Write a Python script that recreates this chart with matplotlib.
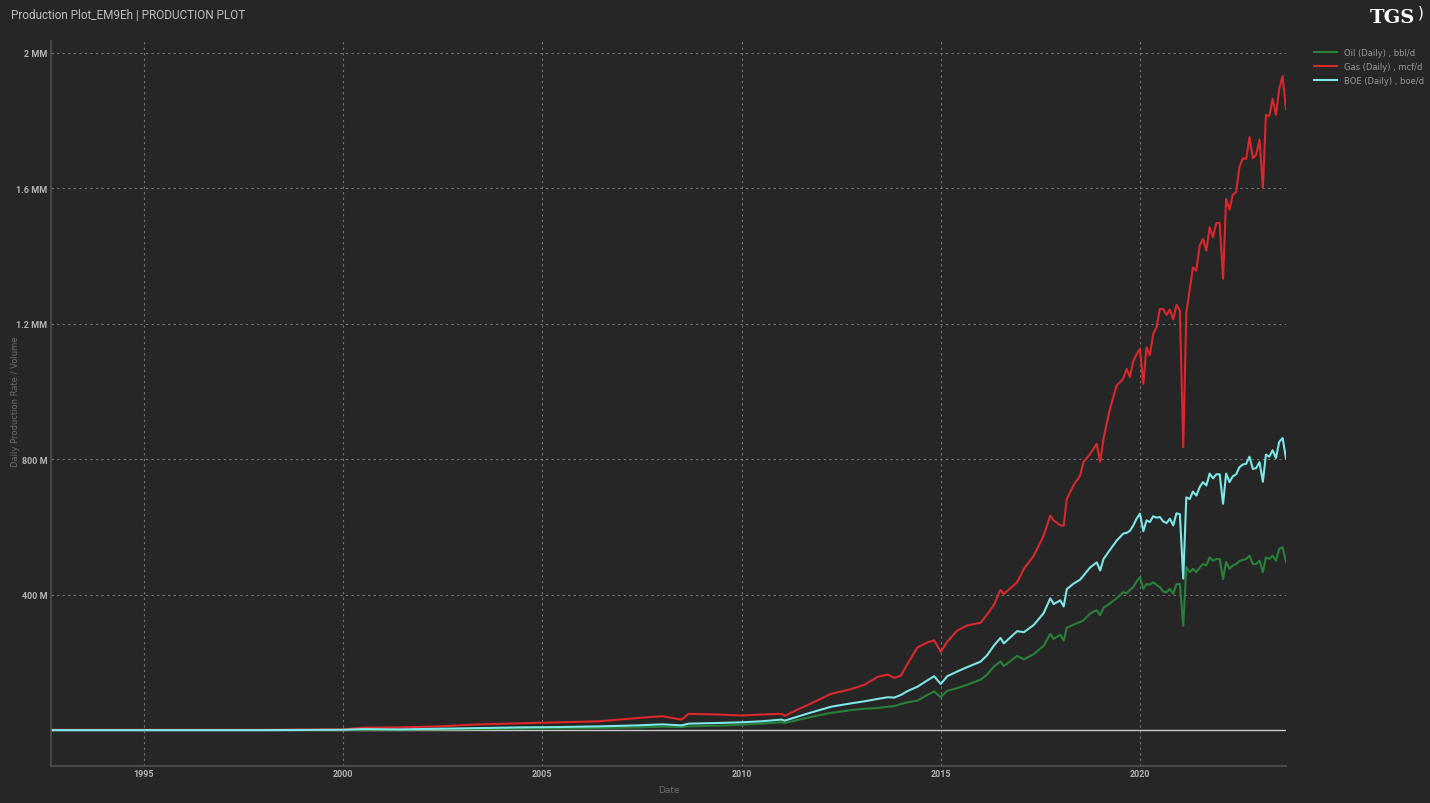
import matplotlib
matplotlib.use("Agg")
import matplotlib.pyplot as plt
import matplotlib.dates as mdates
from matplotlib.ticker import FixedLocator, FuncFormatter
import pandas as pd

# Monthly-ish production values (M = thousand)
dates = [
    "1992-09", "1995-01", "1998-01", "2000-01", "2000-07", "2001-06", "2002-06", "2003-06",
    "2004-06", "2005-06", "2006-06", "2007-06", "2008-01", "2008-07", "2008-09", "2009-06",
    "2010-01", "2010-07", "2011-01", "2011-02", "2011-06", "2011-10", "2012-04", "2012-10",
    "2013-02", "2013-06", "2013-09", "2013-11", "2014-01", "2014-03", "2014-06", "2014-09",
    "2014-11", "2015-01", "2015-03", "2015-06", "2015-09", "2016-01", "2016-03", "2016-05",
    "2016-07", "2016-08", "2016-10", "2016-12", "2017-02", "2017-05", "2017-08", "2017-10",
    "2017-11", "2018-01", "2018-02", "2018-03", "2018-05", "2018-07", "2018-08", "2018-10",
    "2018-12", "2019-01", "2019-02", "2019-04", "2019-06", "2019-08", "2019-09", "2019-10",
    "2019-11", "2019-12", "2020-01", "2020-02", "2020-03", "2020-04", "2020-05", "2020-06",
    "2020-07", "2020-08", "2020-09", "2020-10", "2020-11", "2020-12", "2021-01", "2021-02",
    "2021-03", "2021-04", "2021-05", "2021-06", "2021-07", "2021-08", "2021-09", "2021-10",
    "2021-11", "2021-12", "2022-01", "2022-02", "2022-03", "2022-04", "2022-05", "2022-06",
    "2022-07", "2022-08", "2022-09", "2022-10", "2022-11", "2022-12", "2023-01", "2023-02",
    "2023-03", "2023-04", "2023-05", "2023-06", "2023-07", "2023-08", "2023-09",
]

gas = [
    2, 2, 2, 3, 8, 9, 12, 18,
    21, 24, 27, 37, 42, 32, 49, 47,
    44, 47, 49, 43, 62, 80, 108, 122,
    135, 158, 165, 155, 162, 196, 245, 260,
    266, 232, 262, 295, 310, 318, 342, 370,
    415, 403, 420, 437, 477, 515, 575, 634,
    620, 605, 605, 683, 723, 752, 792, 816,
    846, 793, 861, 949, 1018, 1038, 1067, 1043,
    1090, 1110, 1126, 1023, 1131, 1108, 1170, 1190,
    1244, 1244, 1226, 1242, 1213, 1256, 1239, 836,
    1234, 1300, 1367, 1357, 1431, 1451, 1416, 1485,
    1456, 1498, 1497, 1333, 1569, 1537, 1581, 1589,
    1663, 1689, 1687, 1751, 1689, 1699, 1744, 1601,
    1817, 1813, 1864, 1817, 1894, 1931, 1833,
]

oil = [
    1, 1, 1, 1, 2, 2, 3, 4,
    5, 6, 7, 9, 11, 10, 12, 14,
    17, 20, 24, 22, 31, 40, 52, 60,
    64, 66, 70, 72, 78, 83, 88, 105,
    115, 98, 117, 125, 135, 150, 165, 188,
    204, 190, 205, 220, 210, 225, 250, 285,
    270, 283, 265, 303, 312, 320, 325, 345,
    355, 340, 362, 375, 390, 408, 405, 415,
    423, 440, 452, 418, 432, 430, 437, 430,
    423, 410, 408, 418, 403, 432, 432, 309,
    482, 467, 477, 467, 480, 491, 487, 511,
    501, 506, 506, 447, 497, 477, 487, 491,
    500, 503, 506, 516, 491, 491, 501, 467,
    511, 506, 516, 501, 536, 541, 497,
]

boe = [
    1, 1, 1, 2, 4, 3, 5, 7,
    9, 10, 12, 15, 18, 15, 20, 22,
    24, 27, 32, 29, 41, 53, 70, 80,
    86, 93, 98, 97, 105, 116, 129, 148,
    160, 137, 160, 174, 187, 203, 222, 250,
    273, 257, 275, 293, 290, 311, 346, 390,
    373, 384, 366, 417, 433, 445, 457, 481,
    496, 472, 506, 533, 560, 581, 583, 589,
    605, 625, 640, 588, 620, 615, 632, 628,
    630, 617, 612, 625, 605, 641, 638, 448,
    688, 683, 705, 693, 718, 733, 723, 758,
    744, 756, 756, 669, 758, 733, 750, 756,
    777, 785, 787, 808, 772, 774, 792, 734,
    814, 808, 827, 804, 852, 863, 803,
]

y_ticks = [400, 800, 1200, 1600, 2000]

bg = "#262626"
x = pd.to_datetime(dates)

fig = plt.figure(figsize=(14.3, 8.04), dpi=100, facecolor=bg)
ax = fig.add_axes([0.0357, 0.046, 0.8636, 0.9018], facecolor=bg)

ax.plot(x, oil, color="#2a7f3a", lw=1.5, label="Oil (Daily) , bbl/d")
ax.plot(x, gas, color="#d9282c", lw=1.5, label="Gas (Daily) , mcf/d")
ax.plot(x, boe, color="#7de6e6", lw=1.5, label="BOE (Daily) , boe/d")
ax.axhline(0, color="#c8c8c8", lw=1.0, zorder=1)

ax.set_xlim(x[0], x[-1])
ax.set_ylim(-105, 2035)
ax.xaxis.set_major_locator(mdates.YearLocator(5))
ax.xaxis.set_major_formatter(mdates.DateFormatter("%Y"))
ax.yaxis.set_major_locator(FixedLocator(y_ticks))
ax.yaxis.set_major_formatter(FuncFormatter(
    lambda v, p: f"{v:g} M" if v < 1000 else f"{v / 1000:g} MM"))

ax.grid(True, color="#777777", linestyle=(0, (2, 3)), lw=0.8)
for s in ["top", "right"]:
    ax.spines[s].set_visible(False)
for s in ["left", "bottom"]:
    ax.spines[s].set_color("#505050")
    ax.spines[s].set_linewidth(1.2)
ax.tick_params(length=0, colors="#b4b4b4", labelsize=6.5, pad=2.5)
for lbl in ax.get_xticklabels() + ax.get_yticklabels():
    lbl.set_fontweight("bold")
    lbl.set_family("Roboto")

ax.set_xlabel("Date", color="#6e6e6e", fontsize=6.5, labelpad=5)
fig.text(0.0105, 0.5, "Daily Production Rate / Volume", color="#6e6e6e", fontsize=6,
         rotation=90, ha="center", va="center")

fig.text(0.0077, 0.981, "Production Plot_EM9Eh | PRODUCTION PLOT", color="#bdbdbd",
         fontsize=8.5, va="center", ha="left", family="Roboto")
fig.text(0.974, 0.978, "TGS", color="white", fontsize=14, fontweight="bold",
         family="DejaVu Serif", ha="center", va="center")
fig.text(0.9935, 0.984, ")", color="white", fontsize=11, ha="center", va="center")

leg = ax.legend(loc="upper left", bbox_to_anchor=(1.017, 1.0), frameon=False,
                fontsize=6, handlelength=2.8, labelspacing=0.6, borderaxespad=0.4)
for t in leg.get_texts():
    t.set_color("#9a9a9a")

fig.savefig("out.png", dpi=100, facecolor=bg)
